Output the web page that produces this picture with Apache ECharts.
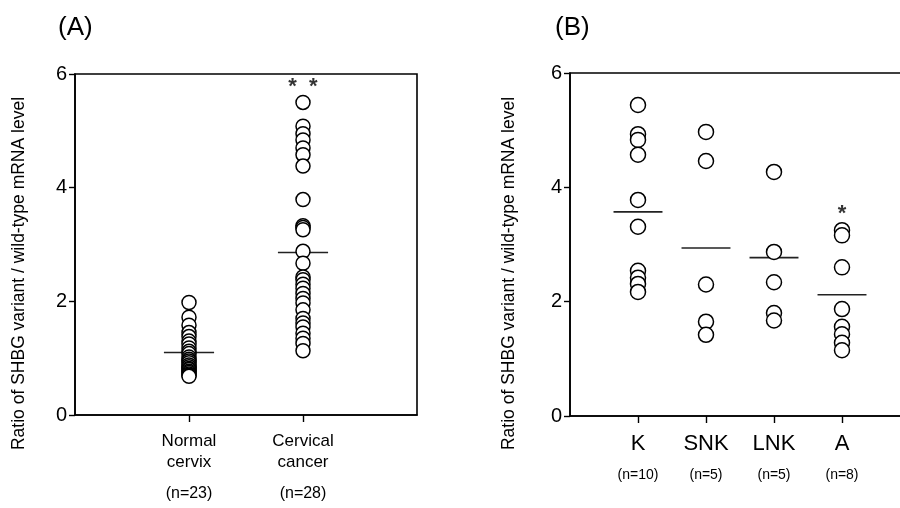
<!DOCTYPE html>
<html>
<head>
<meta charset="utf-8">
<script src="https://cdn.jsdelivr.net/npm/echarts@6/dist/echarts.min.js"></script>
<style>
  html, body { margin: 0; padding: 0; background: #fff; }
  #chart { width: 900px; height: 508px; }
</style>
</head>
<body>
<div id="chart"></div>
<script>
// panel A: groups and values
const groupsA = ['Normal\ncervix', 'Cervical\ncancer']
const countsA = ['(n=23)', '(n=28)']
const normalCervix = [1.98, 1.72, 1.58, 1.45, 1.38, 1.30, 1.25, 1.18, 1.12, 1.08, 1.02, 0.98,
  0.95, 0.92, 0.88, 0.85, 0.82, 0.80, 0.77, 0.75, 0.72, 0.70, 0.68]
const cervicalCancer = [5.50, 5.08, 4.95, 4.84, 4.70, 4.58, 4.38, 3.79, 3.33, 3.30, 3.26,
  2.88, 2.67, 2.43, 2.38, 2.30, 2.23, 2.14, 2.05, 1.97, 1.85, 1.70, 1.62, 1.55, 1.44, 1.35, 1.26, 1.13]
const meansA = [1.10, 2.86]
const starsA = ['', '*  *']
const starYA = [0, 5.78]

// panel B: groups and values
const groupsB = ['K', 'SNK', 'LNK', 'A']
const countsB = ['(n=10)', '(n=5)', '(n=5)', '(n=8)']
const valuesK = [5.44, 4.93, 4.83, 4.57, 3.78, 3.31, 2.54, 2.42, 2.31, 2.17]
const valuesSNK = [4.97, 4.46, 2.30, 1.65, 1.42]
const valuesLNK = [4.27, 2.87, 2.34, 1.80, 1.67]
const valuesA = [3.25, 3.16, 2.60, 1.87, 1.56, 1.43, 1.28, 1.15]
const meansB = [3.57, 2.94, 2.77, 2.12]
const starsB = ['', '', '', '*']
const starYB = [0, 0, 0, 3.53]

const yTicks = [0, 2, 4, 6]
const yName = 'Ratio of SHBG variant / wild-type mRNA level'

const FONT = '"Liberation Sans", Arial, Helvetica, sans-serif'
const chart = echarts.init(document.getElementById('chart'))

function points(vals, x) {
  return vals.map(v => [x, v])
}

// horizontal mean bar drawn through the axes
function meanSeries(means, half, xi, yi) {
  return {
    type: 'custom',
    xAxisIndex: xi,
    yAxisIndex: yi,
    silent: true,
    z: 1,
    data: means.map((m, i) => [i + 1, m]),
    renderItem: (params, api) => {
      const x = api.value(0), y = api.value(1)
      const p1 = api.coord([x - half, y])
      const p2 = api.coord([x + half, y])
      return {
        type: 'line',
        shape: { x1: p1[0], y1: p1[1], x2: p2[0], y2: p2[1] },
        style: { stroke: '#222', lineWidth: 1.6 }
      }
    }
  }
}

function starSeries(stars, yVals, xi, yi, size) {
  return {
    type: 'scatter',
    xAxisIndex: xi,
    yAxisIndex: yi,
    symbolSize: 0,
    silent: true,
    data: stars.map((s, i) => ({ value: [i + 1, yVals[i]], name: s })).filter(d => d.name),
    label: {
      show: true,
      position: 'inside',
      formatter: p => p.name,
      color: '#000',
      fontSize: size,
      fontWeight: 'bold',
      fontFamily: FONT
    }
  }
}

function dotSeries(vals, x, xi, yi, size) {
  return {
    type: 'scatter',
    xAxisIndex: xi,
    yAxisIndex: yi,
    symbol: 'circle',
    symbolSize: size,
    z: 2,
    data: points(vals, x),
    itemStyle: { color: '#fff', borderColor: '#000', borderWidth: 1.5, opacity: 1 }
  }
}

function yAxis(gi, gap) {
  return {
    type: 'value',
    gridIndex: gi,
    min: 0,
    max: 6,
    interval: 2,
    name: yName,
    nameLocation: 'middle',
    nameGap: gap,
    nameRotate: 90,
    nameTextStyle: { fontSize: 17.5, color: '#000', fontFamily: FONT, padding: [0, 58, 0, 0] },
    axisLine: { show: true, lineStyle: { color: '#000', width: 1.6 } },
    axisTick: { show: true, length: 6, lineStyle: { color: '#000', width: 1.4 } },
    axisLabel: { color: '#000', fontSize: 20, fontFamily: FONT, margin: 8,
      formatter: v => yTicks.includes(v) ? String(v) : '' },
    splitLine: { show: false }
  }
}

const option = {
  backgroundColor: '#fff',
  animation: false,
  title: [
    { text: '(A)', left: 53, top: 10, textStyle: { fontSize: 26, fontWeight: 'normal', color: '#000', fontFamily: FONT } },
    { text: '(B)', left: 550, top: 10, textStyle: { fontSize: 26, fontWeight: 'normal', color: '#000', fontFamily: FONT } }
  ],
  grid: [
    { left: 75, top: 74, width: 342, height: 341, show: true, borderColor: '#000', borderWidth: 1.6,
      backgroundColor: 'transparent', outerBoundsMode: 'none' },
    { left: 570, top: 73, width: 340, height: 343, show: true, borderColor: '#000', borderWidth: 1.6,
      backgroundColor: 'transparent', outerBoundsMode: 'none' }
  ],
  xAxis: [
    {
      type: 'value', gridIndex: 0, min: 0, max: 3, interval: 1,
      axisLine: { show: true, lineStyle: { color: '#000', width: 1.6 } },
      axisTick: { show: true, customValues: [1, 2], length: 7, lineStyle: { color: '#000', width: 1.4 } },
      axisLabel: {
        customValues: [1, 2],
        margin: 16,
        formatter: v => {
          const i = Math.round(v) - 1
          if (i < 0 || i >= groupsA.length) return ''
          return groupsA[i].split('\n').map(t => '{a|' + t + '}').join('\n') + '\n{n|' + countsA[i] + '}'
        },
        rich: {
          a: { fontSize: 17, lineHeight: 21, color: '#000', fontFamily: FONT },
          n: { fontSize: 16, lineHeight: 41, color: '#000', fontFamily: FONT }
        }
      },
      splitLine: { show: false }
    },
    {
      type: 'value', gridIndex: 1, min: 0, max: 5, interval: 1,
      axisLine: { show: true, lineStyle: { color: '#000', width: 1.6 } },
      axisTick: { show: true, customValues: [1, 2, 3, 4], length: 7, lineStyle: { color: '#000', width: 1.4 } },
      axisLabel: {
        customValues: [1, 2, 3, 4],
        margin: 16,
        formatter: v => {
          const i = Math.round(v) - 1
          if (i < 0 || i >= groupsB.length) return ''
          return '{a|' + groupsB[i] + '}\n{n|' + countsB[i] + '}'
        },
        rich: {
          a: { fontSize: 22, lineHeight: 24, color: '#000', fontFamily: FONT },
          n: { fontSize: 14, lineHeight: 38, color: '#000', fontFamily: FONT }
        }
      },
      splitLine: { show: false }
    }
  ],
  yAxis: [yAxis(0, 47), yAxis(1, 52)],
  series: [
    dotSeries(normalCervix, 1, 0, 0, 14),
    dotSeries(cervicalCancer, 2, 0, 0, 14),
    meanSeries(meansA, 0.22, 0, 0),
    starSeries(starsA, starYA, 0, 0, 22),
    dotSeries(valuesK, 1, 1, 1, 15),
    dotSeries(valuesSNK, 2, 1, 1, 15),
    dotSeries(valuesLNK, 3, 1, 1, 15),
    dotSeries(valuesA, 4, 1, 1, 15),
    meanSeries(meansB, 0.36, 1, 1),
    starSeries(starsB, starYB, 1, 1, 22)
  ]
}

chart.setOption(option)
</script>
</body>
</html>
